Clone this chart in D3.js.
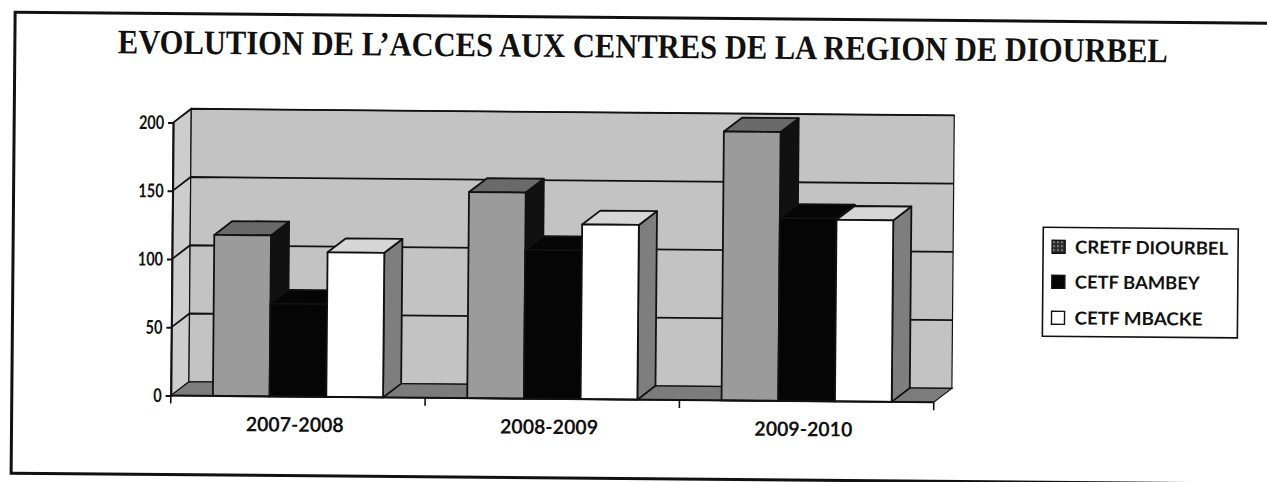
<!DOCTYPE html>
<html>
<head>
<meta charset="utf-8">
<script src="https://cdn.jsdelivr.net/npm/d3@7/dist/d3.min.js"></script>
<style>
  html, body { margin: 0; padding: 0; background: #fff; }
  svg { display: block; }
</style>
</head>
<body>
<svg id="chart" width="1267" height="482"></svg>
<script>
// ---- data ----
const categories = ["2007-2008", "2008-2009", "2009-2010"];
const seriesNames = ["CRETF DIOURBEL", "CETF BAMBEY", "CETF MBACKE"];
const cretfDiourbel = [118, 151, 197];
const cetfBambey = [68, 109, 134];
const cetfMbacke = [106, 128, 133];
const yTicks = [0, 50, 100, 150, 200];
const titleText = "EVOLUTION DE L\u2019ACCES AUX CENTRES DE LA REGION DE DIOURBEL";

const seriesValues = [cretfDiourbel, cetfBambey, cetfMbacke];
const faceStyles = [
  { front: "#9b9b9b", top: "#6a6a6a", side: "#111111" },
  { front: "#050505", top: "#050505", side: "#050505" },
  { front: "#ffffff", top: "#d6d6d6", side: "#7e7e7e" }
];

const svg = d3.select("#chart");
const root = svg.append("g").attr("transform", "rotate(0.5 560 260)");

// outer frame
root.append("rect")
  .attr("x", 13).attr("y", 17).attr("width", 1290).attr("height", 461)
  .attr("fill", "none").attr("stroke", "#111").attr("stroke-width", 3);

// title (vertically stretched to mimic the condensed scanned face)
root.append("g").attr("transform", "translate(116,57) scale(1,1.14)")
  .append("text")
  .attr("x", 0).attr("y", 0)
  .attr("textLength", 1050).attr("lengthAdjust", "spacingAndGlyphs")
  .attr("font-family", "'Liberation Serif', 'Times New Roman', serif")
  .attr("font-weight", "bold").attr("font-size", 30).attr("fill", "#111")
  .text(titleText);

// scales
const x0 = d3.scaleBand().domain(categories).range([172, 935])
  .paddingInner(0.331).paddingOuter(0.1655);
const x1 = d3.scaleBand().domain(seriesNames).range([0, x0.bandwidth()]);
const y = d3.scaleLinear().domain([0, 200]).range([399, 126]);
const dx = 18, dy = -14;
const xL = 172, xR = 935;
const stepW = x0.step();

// side wall
root.append("path")
  .attr("d", `M${xL},${y(200)}L${xL+dx},${y(200)+dy}L${xL+dx},${y(0)+dy}L${xL},${y(0)}Z`)
  .attr("fill", "#cdcdcd").attr("stroke", "#111").attr("stroke-width", 1.2);
// back wall
root.append("rect")
  .attr("x", xL + dx).attr("y", y(200) + dy)
  .attr("width", xR - xL).attr("height", y(0) - y(200))
  .attr("fill", "#c3c3c3").attr("stroke", "#111").attr("stroke-width", 1.2);
// floor
root.append("path")
  .attr("d", `M${xL},${y(0)}L${xL+dx},${y(0)+dy}L${xR+dx},${y(0)+dy}L${xR},${y(0)}Z`)
  .attr("fill", "#7c7c7c").attr("stroke", "#111").attr("stroke-width", 1.2);

// gridlines (side wall diagonal + back wall horizontal)
const grid = root.append("g").attr("stroke", "#111").attr("stroke-width", 1.8).attr("fill", "none");
yTicks.filter(t => t > 0).forEach(t => {
  grid.append("path")
    .attr("d", `M${xL},${y(t)}L${xL+dx},${y(t)+dy}L${xR+dx},${y(t)+dy}`);
});

// bars
const barsG = root.append("g");
categories.forEach((cat, ci) => {
  seriesNames.forEach((s, si) => {
    const v = seriesValues[si][ci];
    const bx = x0(cat) + x1(s);
    const bw = x1.bandwidth();
    const yt = y(v), yb = y(0);
    const st = faceStyles[si];
    const g = barsG.append("g").attr("stroke", "#111").attr("stroke-width", 1.8).attr("stroke-linejoin", "round");
    g.append("path")
      .attr("d", `M${bx+bw},${yt}L${bx+bw+dx},${yt+dy}L${bx+bw+dx},${yb+dy}L${bx+bw},${yb}Z`)
      .attr("fill", st.side);
    g.append("path")
      .attr("d", `M${bx},${yt}L${bx+dx},${yt+dy}L${bx+bw+dx},${yt+dy}L${bx+bw},${yt}Z`)
      .attr("fill", st.top);
    g.append("rect")
      .attr("x", bx).attr("y", yt).attr("width", bw).attr("height", yb - yt)
      .attr("fill", st.front);
  });
});

// y axis
const yAxis = d3.axisLeft(y).tickValues(yTicks).tickSize(5).tickPadding(4).tickFormat(d3.format("d"));
const yg = root.append("g").attr("transform", `translate(${xL},0)`).call(yAxis);
yg.select(".domain").attr("stroke", "#111").attr("stroke-width", 2);
yg.selectAll(".tick line").attr("stroke", "#111").attr("stroke-width", 2);
yg.selectAll(".tick text")
  .attr("font-family", "Lato, 'Open Sans', sans-serif")
  .attr("font-weight", "bold").attr("font-size", 19).attr("fill", "#111")
  .attr("textLength", d => String(d).length * 8.4)
  .attr("lengthAdjust", "spacingAndGlyphs");

// x axis (front floor edge + ticks at band boundaries)
const xg = root.append("g");
xg.append("line").attr("x1", xL).attr("x2", xR).attr("y1", y(0)).attr("y2", y(0))
  .attr("stroke", "#111").attr("stroke-width", 2);
d3.range(categories.length + 1).forEach(k => {
  const xx = xL + k * stepW;
  xg.append("line").attr("x1", xx).attr("x2", xx).attr("y1", y(0)).attr("y2", y(0) + 8)
    .attr("stroke", "#111").attr("stroke-width", 1.6);
});
xg.selectAll("text.cat").data(categories).join("text")
  .attr("class", "cat")
  .attr("x", d => x0(d) + x0.bandwidth() / 2 - 3)
  .attr("y", 434)
  .attr("text-anchor", "middle")
  .attr("textLength", 98).attr("lengthAdjust", "spacingAndGlyphs")
  .attr("font-family", "Lato, 'Open Sans', sans-serif")
  .attr("font-weight", "bold").attr("font-size", 20).attr("fill", "#111")
  .text(d => d);

// legend
const lg = root.append("g");
lg.append("rect").attr("x", 1043).attr("y", 223).attr("width", 195).attr("height", 109)
  .attr("fill", "#fff").attr("stroke", "#111").attr("stroke-width", 1.6);

const defs = svg.append("defs");
const pat = defs.append("pattern").attr("id", "dots").attr("patternUnits", "userSpaceOnUse")
  .attr("width", 4).attr("height", 4);
pat.append("rect").attr("width", 4).attr("height", 4).attr("fill", "#2a2a2a");
pat.append("rect").attr("x", 1).attr("y", 1).attr("width", 1.5).attr("height", 1.5).attr("fill", "#bbb");

const legendRowsY = [242.5, 277.5, 313.5];
const legendWidths = [153, 125, 128];
const swatchFills = ["url(#dots)", "#050505", "#ffffff"];
seriesNames.forEach((s, i) => {
  lg.append("rect").attr("x", 1052).attr("y", legendRowsY[i] - 6.5).attr("width", 13).attr("height", 13)
    .attr("fill", swatchFills[i]).attr("stroke", "#111").attr("stroke-width", 1.4);
  lg.append("text").attr("x", 1075).attr("y", legendRowsY[i] + 6.5)
    .attr("textLength", legendWidths[i]).attr("lengthAdjust", "spacingAndGlyphs")
    .attr("font-family", "Lato, 'Open Sans', sans-serif")
    .attr("font-weight", "bold").attr("font-size", 18).attr("fill", "#111")
    .text(s);
});
</script>
</body>
</html>
